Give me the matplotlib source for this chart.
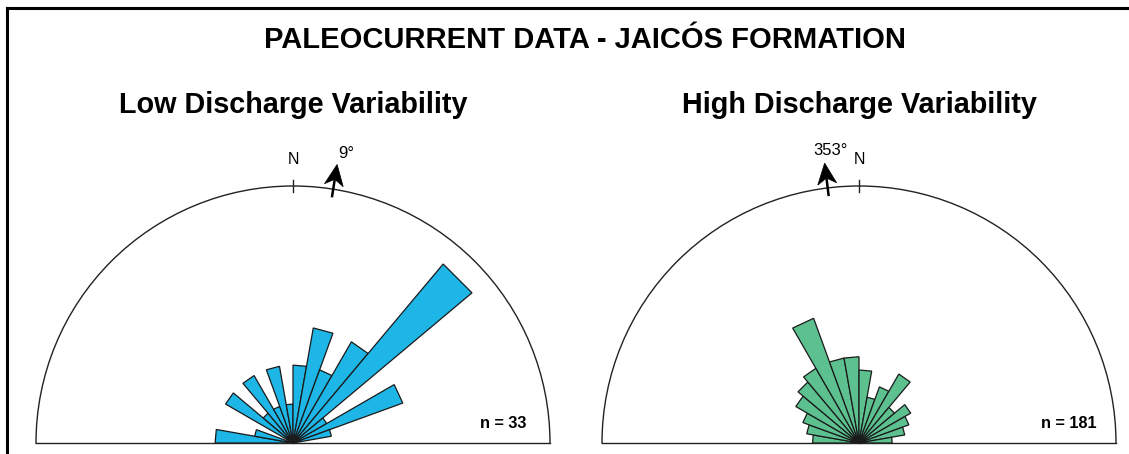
"""
Paleocurrent rose diagrams, Jaicós Formation.
"""

import matplotlib.pyplot as plt
import numpy as np
from matplotlib.lines import Line2D

plt.rcParams["font.family"] = ["Liberation Sans", "DejaVu Sans"]

# 10-degree azimuth bins from W (-90) through N (0) to E (+90)
bin_starts = np.arange(-90, 90, 10)

low_counts = [2, 1, 0, 2, 1, 2, 1, 2, 1, 2, 3, 2, 3, 6, 1, 3, 1, 0]
high_counts = [7, 8, 9, 11, 12, 13, 20, 13, 13, 11, 7, 9, 12, 7, 9, 8, 7, 5]

low_mean = 9
high_mean = 353
low_n = 33
high_n = 181

# outer circle value, percent of readings
low_rmax = 20.0
high_rmax = 21.4

low_color = "#1DB6E6"
high_color = "#5CC18F"
edge = "#1a1a1a"

W, H = 1129, 454
R_PX = 257  # outer circle radius in pixels
BASE_Y = 443


def rose(fig, cx, counts, n, r_max, color, mean_az, title):
    # the half-disc is fitted into a square box, centred vertically
    mid_y = BASE_Y - R_PX / 2
    rect = [(cx - R_PX) / W, (H - (mid_y + R_PX)) / H, 2 * R_PX / W, 2 * R_PX / H]
    ax = fig.add_axes(rect, projection="polar")
    ax.set_theta_zero_location("N")
    ax.set_theta_direction(-1)
    ax.set_thetamin(-90)
    ax.set_thetamax(90)
    ax.set_ylim(0, r_max)
    k = r_max / R_PX  # data units per pixel

    # petals as straight-ended sectors (polygons are not arc-interpolated)
    pct = np.array(counts) / n * 100.0
    for start, r in zip(bin_starts, pct):
        if r <= 0:
            continue
        t0, t1 = np.deg2rad(start), np.deg2rad(start + 10)
        ax.fill([t0, t0, t1, t1], [0, r, r, 0], facecolor=color,
                edgecolor=edge, linewidth=0.9, zorder=3)

    ax.grid(False)
    ax.set_xticks([])
    ax.set_yticks([])
    for sp in ax.spines.values():
        sp.set_color("#222222")
        sp.set_linewidth(1.0)

    # north tick
    ax.plot([0, 0], [251 * k, 263 * k], color="#222222", lw=1.0,
            clip_on=False, zorder=4)
    ax.text(0, 284 * k, "N", ha="center", va="center", fontsize=11.5)

    # vector mean: stem plus a notched arrowhead
    a = np.deg2rad(mean_az if mean_az < 180 else mean_az - 360)
    ax.plot([a, a], [250 * k, 268 * k], color="black", lw=1.8,
            clip_on=False, zorder=4)
    head = [(282, 0), (261, 9.5), (267, 0), (261, -9.5)]
    ht = [a + np.arctan2(lat, d) for d, lat in head]
    hr = [np.hypot(d, lat) * k for d, lat in head]
    ax.fill(ht, hr, color="black", lw=0.5, clip_on=False, zorder=5)
    ax.text(a + np.deg2rad(1.45), 294 * k, f"{mean_az}°", ha="center",
            va="center", fontsize=12)

    ax.text(0.909, (mid_y + R_PX - 423) / (2 * R_PX), f"n = {n}",
            transform=ax.transAxes, ha="center", va="center",
            fontsize=11.7, fontweight="bold")

    fig.text(cx / W, 1 - 105 / H, title, ha="center", va="center",
             fontsize=20.7, fontweight="bold")
    return ax


fig = plt.figure(figsize=(W / 100, H / 100), dpi=100)

rose(fig, 293, low_counts, low_n, low_rmax, low_color, low_mean,
     "Low Discharge Variability")
rose(fig, 859, high_counts, high_n, high_rmax, high_color, high_mean,
     "High Discharge Variability")

fig.text(585 / W, 1 - 40 / H, "PALEOCURRENT DATA - JAICÓS FORMATION",
         ha="center", va="center", fontsize=21, fontweight="bold")

# frame lines along top and left edges
fig.add_artist(Line2D([7 / W, 7 / W], [0, 1 - 8 / H], color="black", lw=2.2))
fig.add_artist(Line2D([7 / W, 1], [1 - 8 / H, 1 - 8 / H], color="black", lw=2.2))

fig.savefig("out.png", dpi=100)
